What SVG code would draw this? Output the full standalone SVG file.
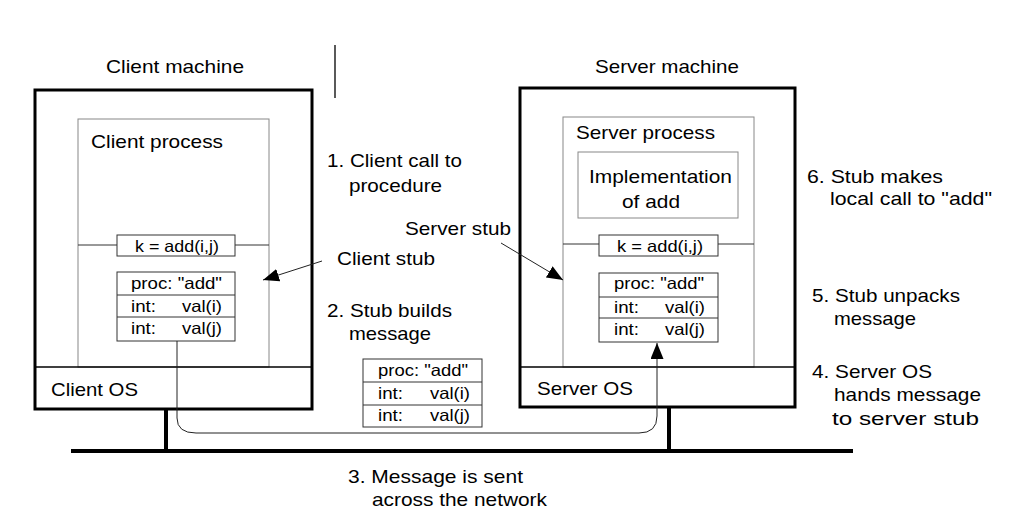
<svg xmlns="http://www.w3.org/2000/svg" width="1012" height="530" viewBox="0 0 1012 530">
<defs>
<style>
text{font-family:"Liberation Sans",Arial,Helvetica,sans-serif;fill:#000}
.lbl{font-size:19px}
.sm{font-size:16.5px}
.mach{fill:#fff;stroke:#000;stroke-width:3}
.div{stroke:#000;stroke-width:1.3}
.proc{fill:none;stroke:#888;stroke-width:1}
.box{fill:#fff;stroke:#333;stroke-width:1}
.row{stroke:#333;stroke-width:1}
.thick{stroke:#000;stroke-width:4;fill:none}
.conn{fill:none;stroke:#222;stroke-width:1}
</style>
<marker id="ah" markerUnits="userSpaceOnUse" markerWidth="18" markerHeight="14" refX="16" refY="6.5" orient="auto">
<path d="M0,0 L16,6.5 L0,13 z" fill="#000"/>
</marker>
</defs>
<rect width="1012" height="530" fill="#fff"/>

<g id="network">
<line class="thick" x1="71" y1="451" x2="853" y2="451"/>
<line class="thick" x1="166" y1="409" x2="166" y2="451"/>
<line class="thick" x1="669" y1="407" x2="669" y2="451"/>
</g>

<line x1="335" y1="45" x2="335" y2="98" stroke="#000" stroke-width="1.3"/>

<g id="client-machine">
<text class="lbl" x="106" y="73" textLength="138" lengthAdjust="spacingAndGlyphs">Client machine</text>
<rect class="mach" x="35" y="90" width="277" height="319"/>
<rect class="proc" x="78" y="119" width="191" height="248"/>
<text class="lbl" x="91" y="148" textLength="132" lengthAdjust="spacingAndGlyphs">Client process</text>
<line class="div" x1="35" y1="367" x2="312" y2="367"/>
<text class="lbl" x="51" y="396" textLength="87" lengthAdjust="spacingAndGlyphs">Client OS</text>
</g>

<g id="client-call">
<line class="row" x1="78" y1="245" x2="117" y2="245"/>
<line class="row" x1="235" y1="245" x2="269" y2="245"/>
<rect class="box" x="117" y="235" width="118" height="21"/>
<text class="sm" x="135" y="252" textLength="84" lengthAdjust="spacingAndGlyphs">k = add(i,j)</text>
</g>

<g id="client-stub">
<rect class="box" x="117" y="272" width="118" height="69"/>
<line class="row" x1="117" y1="295" x2="235" y2="295"/>
<line class="row" x1="117" y1="317" x2="235" y2="317"/>
<text class="sm" x="131" y="289" textLength="91" lengthAdjust="spacingAndGlyphs">proc: "add"</text>
<text class="sm" x="131" y="312" textLength="25" lengthAdjust="spacingAndGlyphs">int:</text>
<text class="sm" x="182" y="312" textLength="40" lengthAdjust="spacingAndGlyphs">val(i)</text>
<text class="sm" x="131" y="334" textLength="25" lengthAdjust="spacingAndGlyphs">int:</text>
<text class="sm" x="182" y="334" textLength="40" lengthAdjust="spacingAndGlyphs">val(j)</text>
</g>

<g id="server-machine">
<text class="lbl" x="595" y="73" textLength="144" lengthAdjust="spacingAndGlyphs">Server machine</text>
<rect class="mach" x="520" y="88" width="275" height="319"/>
<rect class="proc" x="563" y="117" width="191" height="250"/>
<text class="lbl" x="576" y="139" textLength="139" lengthAdjust="spacingAndGlyphs">Server process</text>
<line class="div" x1="520" y1="367" x2="795" y2="367"/>
<text class="lbl" x="537" y="395" textLength="96" lengthAdjust="spacingAndGlyphs">Server OS</text>
</g>

<g id="implementation">
<rect class="proc" x="578" y="152" width="160" height="66" fill="#fff"/>
<text class="lbl" x="589" y="183" textLength="143" lengthAdjust="spacingAndGlyphs">Implementation</text>
<text class="lbl" x="622" y="208" textLength="58" lengthAdjust="spacingAndGlyphs">of add</text>
</g>

<g id="server-call">
<line class="row" x1="563" y1="244" x2="599" y2="244"/>
<line class="row" x1="718" y1="244" x2="754" y2="244"/>
<rect class="box" x="599" y="235" width="119" height="21"/>
<text class="sm" x="617" y="252" textLength="86" lengthAdjust="spacingAndGlyphs">k = add(i,j)</text>
</g>

<g id="server-stub">
<rect class="box" x="599" y="273" width="119" height="69"/>
<line class="row" x1="599" y1="297" x2="718" y2="297"/>
<line class="row" x1="599" y1="318" x2="718" y2="318"/>
<text class="sm" x="614" y="289" textLength="90" lengthAdjust="spacingAndGlyphs">proc: "add"</text>
<text class="sm" x="614" y="313" textLength="25" lengthAdjust="spacingAndGlyphs">int:</text>
<text class="sm" x="665" y="313" textLength="40" lengthAdjust="spacingAndGlyphs">val(i)</text>
<text class="sm" x="614" y="335" textLength="25" lengthAdjust="spacingAndGlyphs">int:</text>
<text class="sm" x="665" y="335" textLength="40" lengthAdjust="spacingAndGlyphs">val(j)</text>
</g>

<g id="message">
<rect class="box" x="363" y="359" width="119" height="68"/>
<line class="row" x1="363" y1="382" x2="482" y2="382"/>
<line class="row" x1="363" y1="405" x2="482" y2="405"/>
<text class="sm" x="378" y="376" textLength="90" lengthAdjust="spacingAndGlyphs">proc: "add"</text>
<text class="sm" x="378" y="399" textLength="25" lengthAdjust="spacingAndGlyphs">int:</text>
<text class="sm" x="430" y="399" textLength="40" lengthAdjust="spacingAndGlyphs">val(i)</text>
<text class="sm" x="378" y="421" textLength="25" lengthAdjust="spacingAndGlyphs">int:</text>
<text class="sm" x="430" y="421" textLength="40" lengthAdjust="spacingAndGlyphs">val(j)</text>
</g>

<g id="connectors">
<path class="conn" d="M177,341 V418 Q177,433 196,433 H639 Q657,433 657,416 V343" marker-end="url(#ah)"/>
<line class="conn" x1="322" y1="261" x2="263" y2="280" marker-end="url(#ah)"/>
<line class="conn" x1="501" y1="243" x2="563" y2="280" marker-end="url(#ah)"/>
</g>

<g id="labels">
<text class="lbl" x="327" y="167" textLength="135" lengthAdjust="spacingAndGlyphs">1. Client call to</text>
<text class="lbl" x="349" y="192" textLength="93" lengthAdjust="spacingAndGlyphs">procedure</text>
<text class="lbl" x="405" y="235" textLength="106" lengthAdjust="spacingAndGlyphs">Server stub</text>
<text class="lbl" x="337" y="265" textLength="98" lengthAdjust="spacingAndGlyphs">Client stub</text>
<text class="lbl" x="327" y="317" textLength="125" lengthAdjust="spacingAndGlyphs">2. Stub builds</text>
<text class="lbl" x="349" y="340" textLength="82" lengthAdjust="spacingAndGlyphs">message</text>
<text class="lbl" x="348" y="483" textLength="175" lengthAdjust="spacingAndGlyphs">3. Message is sent</text>
<text class="lbl" x="372" y="506" textLength="175" lengthAdjust="spacingAndGlyphs">across the network</text>
<text class="lbl" x="807" y="183" textLength="136" lengthAdjust="spacingAndGlyphs">6. Stub makes</text>
<text class="lbl" x="830" y="205" textLength="162" lengthAdjust="spacingAndGlyphs">local call to "add"</text>
<text class="lbl" x="812" y="302" textLength="148" lengthAdjust="spacingAndGlyphs">5. Stub unpacks</text>
<text class="lbl" x="834" y="325" textLength="82" lengthAdjust="spacingAndGlyphs">message</text>
<text class="lbl" x="812" y="378" textLength="120" lengthAdjust="spacingAndGlyphs">4. Server OS</text>
<text class="lbl" x="834" y="401" textLength="147" lengthAdjust="spacingAndGlyphs">hands message</text>
<text class="lbl" x="832" y="425" textLength="147" lengthAdjust="spacingAndGlyphs">to server stub</text>
</g>
</svg>
